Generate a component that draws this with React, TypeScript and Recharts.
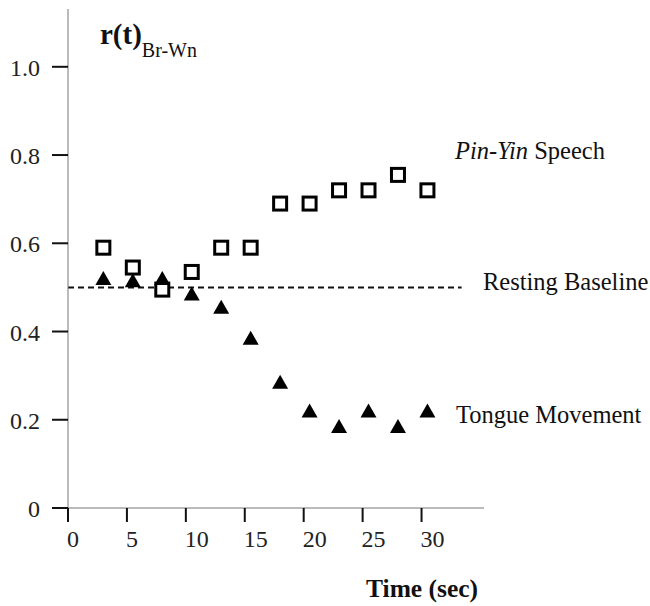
import React from "react";
import { ScatterChart, Scatter, XAxis, YAxis, ReferenceLine } from "recharts";

// time points (sec)
const times = [3, 5.5, 8, 10.5, 13, 15.5, 18, 20.5, 23, 25.5, 28, 30.5];
// r(t) Br-Wn values
const pinYinSpeech = [0.59, 0.545, 0.495, 0.535, 0.59, 0.59, 0.69, 0.69, 0.72, 0.72, 0.755, 0.72];
const tongueMovement = [0.52, 0.515, 0.52, 0.485, 0.455, 0.385, 0.285, 0.22, 0.185, 0.22, 0.185, 0.22];
const restingBaseline = 0.5;
const baselineEnd = 33.4;

const xTicks = [0, 5, 10, 15, 20, 25, 30];
const yTicks = [0, 0.2, 0.4, 0.6, 0.8, 1.0];
const yTickLabels = ["0", "0.2", "0.4", "0.6", "0.8", "1.0"];

const speechData = times.map((t, i) => ({ t, r: pinYinSpeech[i] }));
const tongueData = times.map((t, i) => ({ t, r: tongueMovement[i] }));

const FONT = "'Liberation Serif', 'DejaVu Serif', serif";

const SquareMark = ({ cx, cy }: any) => (
  <rect
    x={cx - 6.5}
    y={cy - 6.5}
    width={13}
    height={13}
    fill="#fff"
    stroke="#000"
    strokeWidth={3}
  />
);

const TriangleMark = ({ cx, cy }: any) => (
  <polygon
    points={`${cx},${cy - 7.5} ${cx + 8},${cy + 6.5} ${cx - 8},${cy + 6.5}`}
    fill="#000"
  />
);

const XTick = ({ x, y, payload }: any) => (
  <text x={x - 1} y={y} dy={23} textAnchor="start" fontSize={24} fontFamily={FONT} fill="#222">
    {payload.value}
  </text>
);

const YTick = ({ x, y, payload }: any) => {
  const idx = yTicks.indexOf(payload.value);
  return (
    <text x={x} y={y} dy={9} textAnchor="end" fontSize={24} fontFamily={FONT} fill="#222">
      {idx >= 0 ? yTickLabels[idx] : payload.value}
    </text>
  );
};

export default function App() {
  return (
    <div style={{ position: "absolute", left: 0, top: 0, width: 650, height: 606, background: "#fff" }}>
      <ScatterChart
        width={650}
        height={606}
        margin={{ top: 9, right: 166, bottom: 0, left: 0 }}
      >
        <XAxis
          type="number"
          dataKey="t"
          domain={[0, 35.3]}
          ticks={xTicks}
          interval={0}
          axisLine={{ stroke: "#777", strokeWidth: 1 }}
          tickLine={{ stroke: "#111", strokeWidth: 2 }}
          tickSize={14}
          tickMargin={2}
          height={98}
          tick={<XTick />}
        />
        <YAxis
          type="number"
          dataKey="r"
          domain={[0, 1.131]}
          ticks={yTicks}
          interval={0}
          axisLine={{ stroke: "#777", strokeWidth: 1 }}
          tickLine={{ stroke: "#111", strokeWidth: 2 }}
          tickSize={16}
          tickMargin={12}
          width={68}
          tick={<YTick />}
        />
        <ReferenceLine
          segment={[
            { x: 0, y: restingBaseline },
            { x: baselineEnd, y: restingBaseline },
          ]}
          stroke="#111"
          strokeWidth={2}
          strokeDasharray="6 4"
        />
        <Scatter
          name="Pin-Yin Speech"
          data={speechData}
          shape={<SquareMark />}
          isAnimationActive={false}
        />
        <Scatter
          name="Tongue Movement"
          data={tongueData}
          shape={<TriangleMark />}
          isAnimationActive={false}
        />
      </ScatterChart>
      <svg
        width={650}
        height={606}
        style={{ position: "absolute", left: 0, top: 0, pointerEvents: "none" }}
      >
        <text x={100} y={44} fontFamily={FONT} fontWeight="bold" fontSize={29} fill="#111">
          r(t)
          <tspan fontWeight="normal" fontSize={20} dy={13}>
            Br-Wn
          </tspan>
        </text>
        <text x={455} y={159} fontFamily={FONT} fontSize={24.5} fill="#111">
          <tspan fontStyle="italic">Pin-Yin</tspan> Speech
        </text>
        <text x={483} y={290} fontFamily={FONT} fontSize={24.5} fill="#111">
          Resting Baseline
        </text>
        <text x={456} y={423} fontFamily={FONT} fontSize={24.5} fill="#111">
          Tongue Movement
        </text>
        <text x={366} y={597} fontFamily={FONT} fontWeight="bold" fontSize={25.5} fill="#111">
          Time (sec)
        </text>
      </svg>
    </div>
  );
}
